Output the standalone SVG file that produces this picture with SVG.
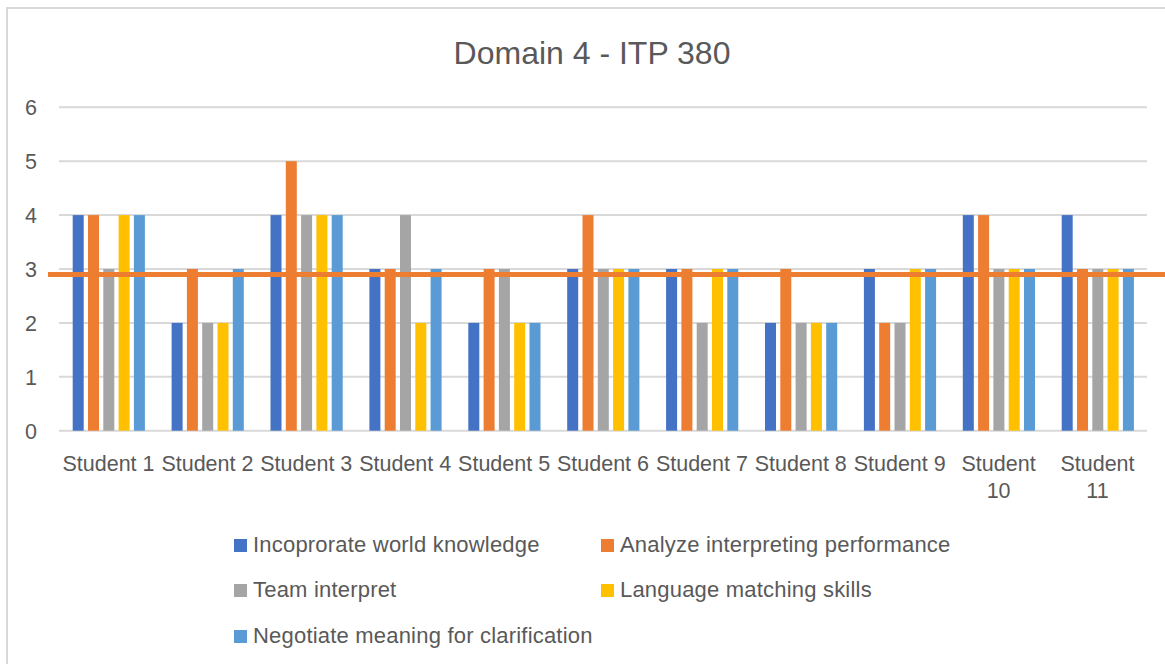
<svg xmlns="http://www.w3.org/2000/svg" width="1165" height="664" viewBox="0 0 1165 664">
<style>
text{font-family:"Liberation Sans",Arial,sans-serif;fill:#595959}
.ax{font-size:21.5px}
.lg{font-size:22px;letter-spacing:0.2px}
.grid{stroke:#d9d9d9;stroke-width:2}
.s1{fill:#4472c4}.s2{fill:#ed7d31}.s3{fill:#a5a5a5}.s4{fill:#ffc000}.s5{fill:#5b9bd5}
</style>
<rect width="1165" height="664" fill="#fff"/>
<rect x="7" y="8" width="1200" height="700" fill="none" stroke="#d9d9d9" stroke-width="2"/>
<text id="title" x="592" y="64" font-size="32" text-anchor="middle">Domain 4 - ITP 380</text>
<g id="gridlines">
<line class="grid" x1="59" y1="107.3" x2="1147" y2="107.3"/>
<line class="grid" x1="59" y1="161.2" x2="1147" y2="161.2"/>
<line class="grid" x1="59" y1="215.1" x2="1147" y2="215.1"/>
<line class="grid" x1="59" y1="269" x2="1147" y2="269"/>
<line class="grid" x1="59" y1="322.9" x2="1147" y2="322.9"/>
<line class="grid" x1="59" y1="376.8" x2="1147" y2="376.8"/>
<line class="grid" x1="59" y1="430.7" x2="1147" y2="430.7"/>
</g>
<g id="yaxis" class="ax" text-anchor="end">
<text x="37" y="115">6</text>
<text x="37" y="169">5</text>
<text x="37" y="223">4</text>
<text x="37" y="277">3</text>
<text x="37" y="331">2</text>
<text x="37" y="385">1</text>
<text x="37" y="439">0</text>
</g>
<g id="series1" class="s1">
<rect x="72.7" y="215.1" width="11" height="215.6"/>
<rect x="171.6" y="322.9" width="11" height="107.8"/>
<rect x="270.5" y="215.1" width="11" height="215.6"/>
<rect x="369.4" y="269" width="11" height="161.7"/>
<rect x="468.3" y="322.9" width="11" height="107.8"/>
<rect x="567.2" y="269" width="11" height="161.7"/>
<rect x="666.1" y="269" width="11" height="161.7"/>
<rect x="765" y="322.9" width="11" height="107.8"/>
<rect x="863.9" y="269" width="11" height="161.7"/>
<rect x="962.8" y="215.1" width="11" height="215.6"/>
<rect x="1061.7" y="215.1" width="11" height="215.6"/>
</g>
<g id="series2" class="s2">
<rect x="88" y="215.1" width="11" height="215.6"/>
<rect x="186.9" y="269" width="11" height="161.7"/>
<rect x="285.8" y="161.2" width="11" height="269.5"/>
<rect x="384.7" y="269" width="11" height="161.7"/>
<rect x="483.6" y="269" width="11" height="161.7"/>
<rect x="582.5" y="215.1" width="11" height="215.6"/>
<rect x="681.4" y="269" width="11" height="161.7"/>
<rect x="780.3" y="269" width="11" height="161.7"/>
<rect x="879.2" y="322.9" width="11" height="107.8"/>
<rect x="978.1" y="215.1" width="11" height="215.6"/>
<rect x="1077" y="269" width="11" height="161.7"/>
</g>
<g id="series3" class="s3">
<rect x="103.3" y="269" width="11" height="161.7"/>
<rect x="202.2" y="322.9" width="11" height="107.8"/>
<rect x="301.1" y="215.1" width="11" height="215.6"/>
<rect x="400" y="215.1" width="11" height="215.6"/>
<rect x="498.9" y="269" width="11" height="161.7"/>
<rect x="597.8" y="269" width="11" height="161.7"/>
<rect x="696.7" y="322.9" width="11" height="107.8"/>
<rect x="795.6" y="322.9" width="11" height="107.8"/>
<rect x="894.5" y="322.9" width="11" height="107.8"/>
<rect x="993.4" y="269" width="11" height="161.7"/>
<rect x="1092.3" y="269" width="11" height="161.7"/>
</g>
<g id="series4" class="s4">
<rect x="118.6" y="215.1" width="11" height="215.6"/>
<rect x="217.5" y="322.9" width="11" height="107.8"/>
<rect x="316.4" y="215.1" width="11" height="215.6"/>
<rect x="415.3" y="322.9" width="11" height="107.8"/>
<rect x="514.2" y="322.9" width="11" height="107.8"/>
<rect x="613.1" y="269" width="11" height="161.7"/>
<rect x="712" y="269" width="11" height="161.7"/>
<rect x="810.9" y="322.9" width="11" height="107.8"/>
<rect x="909.8" y="269" width="11" height="161.7"/>
<rect x="1008.7" y="269" width="11" height="161.7"/>
<rect x="1107.6" y="269" width="11" height="161.7"/>
</g>
<g id="series5" class="s5">
<rect x="133.9" y="215.1" width="11" height="215.6"/>
<rect x="232.8" y="269" width="11" height="161.7"/>
<rect x="331.7" y="215.1" width="11" height="215.6"/>
<rect x="430.6" y="269" width="11" height="161.7"/>
<rect x="529.5" y="322.9" width="11" height="107.8"/>
<rect x="628.4" y="269" width="11" height="161.7"/>
<rect x="727.3" y="269" width="11" height="161.7"/>
<rect x="826.2" y="322.9" width="11" height="107.8"/>
<rect x="925.1" y="269" width="11" height="161.7"/>
<rect x="1024" y="269" width="11" height="161.7"/>
<rect x="1122.9" y="269" width="11" height="161.7"/>
</g>
<g id="connectors">
<line id="threshold" x1="48" y1="274.5" x2="1165" y2="274.5" stroke="#ed7d31" stroke-width="5"/>
</g>
<g id="xaxis" class="ax" text-anchor="middle">
<text x="108.5" y="471">Student 1</text>
<text x="207.4" y="471">Student 2</text>
<text x="306.3" y="471">Student 3</text>
<text x="405.2" y="471">Student 4</text>
<text x="504.1" y="471">Student 5</text>
<text x="603" y="471">Student 6</text>
<text x="701.9" y="471">Student 7</text>
<text x="800.8" y="471">Student 8</text>
<text x="899.7" y="471">Student 9</text>
<text x="998.6" y="471">Student</text>
<text x="998.6" y="498">10</text>
<text x="1097.5" y="471">Student</text>
<text x="1097.5" y="498">11</text>
</g>
<g id="legend" class="lg">
<g id="leg1"><rect class="s1" x="234" y="539" width="13" height="13"/><text x="253" y="552">Incoprorate world knowledge</text></g>
<g id="leg2"><rect class="s2" x="601" y="539" width="13" height="13"/><text x="620" y="552">Analyze interpreting performance</text></g>
<g id="leg3"><rect class="s3" x="234" y="584" width="13" height="13"/><text x="253" y="597">Team interpret</text></g>
<g id="leg4"><rect class="s4" x="601" y="584" width="13" height="13"/><text x="620" y="597">Language matching skills</text></g>
<g id="leg5"><rect class="s5" x="234" y="630" width="13" height="13"/><text x="253" y="643">Negotiate meaning for clarification</text></g>
</g>
</svg>
